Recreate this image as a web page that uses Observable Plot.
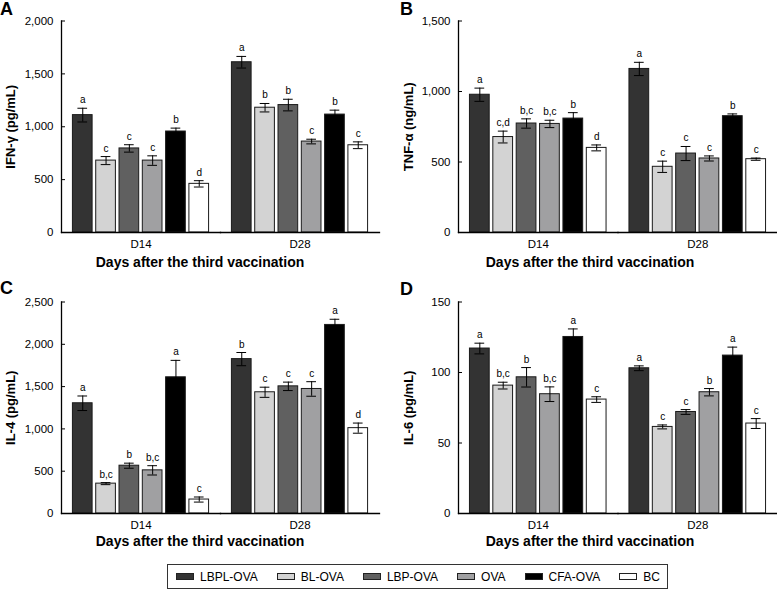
<!DOCTYPE html>
<html>
<head>
<meta charset="utf-8">
<script src="https://cdn.jsdelivr.net/npm/d3@7"></script>
<script src="https://cdn.jsdelivr.net/npm/@observablehq/plot@0.6"></script>
<style>
  html, body { margin: 0; padding: 0; background: #fff; }
  #chart { position: relative; width: 777px; height: 591px; font-family: "Liberation Sans", Arial, sans-serif; color: #000; -webkit-font-smoothing: antialiased; }
  #chart svg text { -webkit-font-smoothing: antialiased; }
  .panel { position: absolute; }
  .letter { position: absolute; font-size: 18px; font-weight: bold; line-height: 18px; }
  .xtitle { position: absolute; width: 320px; text-align: center; font-size: 14px; font-weight: bold; line-height: 14px; white-space: nowrap; }
  #legend { position: absolute; left: 167px; top: 564px; height: 25px; box-sizing: border-box; border: 1px solid #333; display: flex; align-items: center; gap: 19px; padding: 0 7px 0 8px; font-size: 12px; }
  #legend .item { display: flex; align-items: center; white-space: nowrap; }
  #legend .sw { display: inline-block; width: 18px; height: 7px; box-sizing: border-box; border: 1px solid #222; margin-right: 6px; }
</style>
</head>
<body>
<div id="chart"></div>
<script>
const days = ["D14", "D28"];
const groups = ["LBPL-OVA", "BL-OVA", "LBP-OVA", "OVA", "CFA-OVA", "BC"];
const colors = ["#333333", "#d3d3d3", "#606060", "#a0a0a2", "#000000", "#ffffff"];

// Panel A: IFN-γ (pg/mL)
const ifnMean = [[1110, 680, 795, 680, 955, 460], [1610, 1180, 1205, 860, 1115, 825]];
const ifnErr  = [[65, 38, 35, 45, 32, 30], [55, 40, 55, 22, 42, 32]];
const ifnSig  = [["a", "c", "c", "c", "b", "d"], ["a", "b", "b", "c", "b", "c"]];
const ifnTicks = [0, 500, 1000, 1500, 2000];

// Panel B: TNF-α (ng/mL)
const tnfMean = [[977, 677, 773, 770, 808, 600], [1160, 466, 560, 525, 825, 520]];
const tnfErr  = [[47, 42, 33, 26, 42, 21], [47, 40, 50, 18, 16, 8]];
const tnfSig  = [["a", "c,d", "b,c", "b,c", "b", "d"], ["a", "c", "c", "c", "b", "c"]];
const tnfTicks = [0, 500, 1000, 1500];

// Panel C: IL-4 (pg/mL)
const il4Mean = [[1303, 353, 565, 510, 1610, 165], [1825, 1433, 1503, 1472, 2229, 1009]];
const il4Err  = [[86, 12, 30, 55, 200, 30], [78, 60, 50, 86, 67, 60]];
const il4Sig  = [["a", "b,c", "b", "b,c", "a", "c"], ["b", "c", "c", "c", "a", "d"]];
const il4Ticks = [0, 500, 1000, 1500, 2000, 2500];

// Panel D: IL-6 (pg/mL)
const il6Mean = [[117, 90.7, 96.6, 84.6, 125.2, 80.8], [103, 61.4, 72, 86, 112, 63.8]];
const il6Err  = [[3.8, 2.4, 6.9, 5.2, 5.7, 2], [1.7, 1.4, 1.7, 2.6, 6, 3.5]];
const il6Sig  = [["a", "b,c", "b", "b,c", "a", "c"], ["a", "c", "c", "b", "a", "c"]];
const il6Ticks = [0, 50, 100, 150];

const xTitle = "Days after the third vaccination";
const fmt = d3.format(",.0f");

function rows(M, E, S) {
  return days.flatMap((d, i) => groups.map((g, j) => ({day: d, group: g, mean: M[i][j], err: E[i][j], sig: S[i][j]})));
}

function panel({M, E, S, ticks, ytitle, marginLeft, marginRight, labelOffset}) {
  const data = rows(M, E, S);
  return Plot.plot({
    width: 389 - (marginRight === 0 ? 1 : 0),
    height: 270,
    marginTop: 20.5,
    marginBottom: 38,
    marginLeft,
    marginRight,
    style: {fontFamily: "'Liberation Sans', Arial, sans-serif", color: "#000", background: "transparent"},
    fx: {domain: days, padding: 0, round: false},
    x: {domain: groups, paddingInner: 0.155, paddingOuter: 0.49, round: false, axis: null},
    y: {domain: [0, ticks[ticks.length - 1]]},
    color: {domain: groups, range: colors},
    marks: [
      Plot.barY(data, {fx: "day", x: "group", y: "mean", fill: "group", stroke: "#1a1a1a", strokeWidth: 1}),
      Plot.ruleX(data, {fx: "day", x: "group", y1: d => d.mean - d.err, y2: d => d.mean + d.err, stroke: "#000", strokeWidth: 1}),
      Plot.tickY(data, {fx: "day", x: "group", y: d => d.mean + d.err, insetLeft: 5, insetRight: 5, stroke: "#000", strokeWidth: 1}),
      Plot.tickY(data, {fx: "day", x: "group", y: d => d.mean - d.err, insetLeft: 5, insetRight: 5, stroke: "#000", strokeWidth: 1}),
      Plot.text(data, {fx: "day", x: "group", y: d => d.mean + d.err, text: "sig", dy: -5, lineAnchor: "bottom", fontSize: 10, fill: "black"}),
      Plot.frame({anchor: "bottom", stroke: "#000", strokeWidth: 1.3}),
      Plot.frame({anchor: "left", facetAnchor: "left", stroke: "#000", strokeWidth: 1.3}),
      Plot.axisY({ticks, tickSize: 4, dx: 4, tickFormat: () => "", label: null, stroke: "#000", strokeWidth: 1}),
      Plot.axisY({ticks, tickSize: 0, tickPadding: 8, tickFormat: fmt, label: null, fontSize: 11.5, fill: "#000"}),
      Plot.axisY({ticks: [], tickSize: 0, label: ytitle, labelAnchor: "center", labelArrow: "none", labelOffset, fontSize: 13, fontWeight: "bold", fill: "#000"}),
      Plot.axisFx({anchor: "bottom", tickSize: 0, tickPadding: 7, label: null, fontSize: 11.5, fill: "#000"})
    ]
  });
}

const chart = document.getElementById("chart");

function place(node, left, top) {
  const wrap = document.createElement("div");
  wrap.className = "panel";
  wrap.style.left = left + "px";
  wrap.style.top = top + "px";
  wrap.appendChild(node);
  chart.appendChild(wrap);
}

place(panel({M: ifnMean, E: ifnErr, S: ifnSig, ticks: ifnTicks, ytitle: "IFN-γ (pg/mL)", marginLeft: 61, marginRight: 10, labelOffset: 56}), 0, 0);
place(panel({M: tnfMean, E: tnfErr, S: tnfSig, ticks: tnfTicks, ytitle: "TNF-α (ng/mL)", marginLeft: 69, marginRight: 0, labelOffset: 55}), 389, 0);
place(panel({M: il4Mean, E: il4Err, S: il4Sig, ticks: il4Ticks, ytitle: "IL-4 (pg/mL)", marginLeft: 61, marginRight: 10, labelOffset: 56}), 0, 281);
place(panel({M: il6Mean, E: il6Err, S: il6Sig, ticks: il6Ticks, ytitle: "IL-6 (pg/mL)", marginLeft: 69, marginRight: 0, labelOffset: 55}), 389, 281);

function addText(cls, txt, left, top) {
  const el = document.createElement("div");
  el.className = cls;
  el.textContent = txt;
  el.style.left = left + "px";
  el.style.top = top + "px";
  chart.appendChild(el);
}
addText("letter", "A", 0, 0);
addText("letter", "B", 400, 0);
addText("letter", "C", 0, 279);
addText("letter", "D", 400, 280);
addText("xtitle", xTitle, 200 - 160, 255);
addText("xtitle", xTitle, 590 - 160, 255);
addText("xtitle", xTitle, 200 - 160, 534);
addText("xtitle", xTitle, 590 - 160, 534);

const legend = document.createElement("div");
legend.id = "legend";
groups.forEach((g, i) => {
  const item = document.createElement("span");
  item.className = "item";
  const sw = document.createElement("span");
  sw.className = "sw";
  sw.style.background = colors[i];
  item.appendChild(sw);
  item.appendChild(document.createTextNode(g));
  legend.appendChild(item);
});
chart.appendChild(legend);
</script>
</body>
</html>
